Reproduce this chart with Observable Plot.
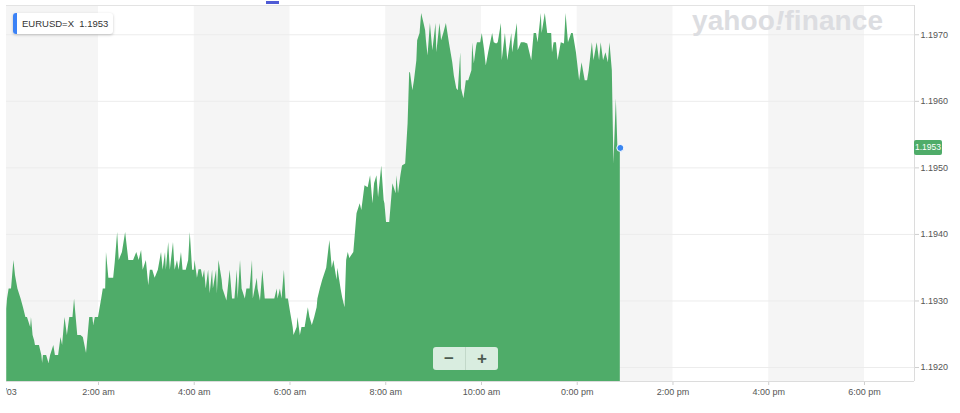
<!DOCTYPE html>
<html><head><meta charset="utf-8">
<script src="https://cdn.jsdelivr.net/npm/d3@7"></script>
<script src="https://cdn.jsdelivr.net/npm/@observablehq/plot@0.6"></script>
<style>
html,body{margin:0;padding:0;background:#fff;}
#wrap{position:relative;width:960px;height:413px;overflow:hidden;font-family:"Liberation Sans",Arial,sans-serif;}
#chart{position:absolute;left:6px;top:0;width:954px;height:413px;overflow:hidden;}
#chart svg{overflow:hidden;display:block;}
#chart svg [aria-label*="axis"] text{fill:#555;}
#tag{position:absolute;left:13px;top:13px;height:21px;padding:0 5px 0 9px;background:#fff;border-radius:3px;box-shadow:0 1px 3px rgba(0,0,0,0.22);font-size:9.5px;line-height:21px;color:#333;white-space:nowrap;}
#tag:before{content:"";position:absolute;left:0;top:0;width:4px;height:21px;background:#3b82f6;border-radius:3px 0 0 3px;}
#logo{position:absolute;left:692px;top:5px;font-size:28px;font-weight:bold;color:#dcdde1;letter-spacing:0.1px;font-family:"Liberation Sans",Arial,sans-serif;}
#logo i{font-style:italic;}
#zoom{position:absolute;left:433px;top:347px;width:65px;height:23px;background:#d9ede0;border-radius:3px;display:flex;font-weight:bold;color:#4c5b51;font-size:17px;line-height:23px;}
#zoom span{flex:1;text-align:center;}
#zoom span:first-child{border-right:1px solid #c2d8c9;}
#mark{position:absolute;left:266px;top:1px;width:13px;height:3px;background:#4f5bd5;}
</style></head>
<body>
<div id="wrap">
  <div id="chart"></div>
  <div id="mark"></div>
  <div id="tag">EURUSD=X&nbsp;&nbsp;1.1953</div>
  <div id="logo">yahoo<i>!</i>finance</div>
  <div id="zoom"><span>&minus;</span><span>+</span></div>
</div>
<script>
// minutes since midnight
const times = [
 5,6,8,11,14,16,19,23,26,29,
 31,35,36,38,40,41,44,46,49,50,
 51,55,58,60,64,66,70,73,75,78,
 81,84,88,90,94,98,101,105,109,113,
 114,116,120,124,126,129,130,133,135,139,
 141,144,146,150,154,158,161,164,168,171,
 174,176,180,183,185,188,191,195,199,201,
 204,205,208,210,214,216,219,221,224,226,
 230,233,235,238,240,241,244,246,249,251,
 253,255,258,260,263,264,268,269,271,275,
 276,281,285,288,291,294,295,298,300,304,
 306,310,313,314,319,320,323,326,329,333,
 338,341,344,345,348,350,353,355,358,360,
 364,365,369,370,373,375,379,383,385,388,
 391,394,395,398,401,406,410,413,415,419,
 420,424,426,429,431,433,435,440,444,448,
 450,454,458,461,464,466,469,471,475,478,
 479,481,485,489,493,494,496,499,501,505,
 508,510,511,514,516,519,520,523,525,528,
 530,531,533,536,539,543,544,548,550,553,
 556,560,564,566,569,571,574,575,578,581,
 584,588,589,591,594,595,599,601,604,606,
 609,614,616,619,621,625,626,630,633,638,
 639,641,645,646,650,654,658,663,666,669,
 671,675,676,680,683,688,689,691,694,696,
 700,704,706,709,713,715,719,723,726,730,
 733,735,739,741,745,748,750,753,756,759,
 761,764,766,769,771,774
];
const prices = [
 1.19288,1.19303,1.19318,1.19318,1.19361,1.19338,1.19318,1.19303,1.19290,1.19275,
 1.19275,1.19260,1.19275,1.19248,1.19240,1.19233,1.19233,1.19233,1.19218,1.19206,
 1.19218,1.19218,1.19206,1.19218,1.19233,1.19218,1.19218,1.19245,1.19233,1.19275,
 1.19248,1.19275,1.19275,1.19303,1.19248,1.19248,1.19245,1.19221,1.19275,1.19275,
 1.19263,1.19275,1.19275,1.19303,1.19318,1.19318,1.19373,1.19334,1.19334,1.19334,
 1.19358,1.19403,1.19361,1.19373,1.19403,1.19361,1.19361,1.19361,1.19373,1.19361,
 1.19376,1.19346,1.19361,1.19323,1.19346,1.19346,1.19334,1.19346,1.19373,1.19346,
 1.19373,1.19346,1.19388,1.19346,1.19388,1.19346,1.19361,1.19346,1.19373,1.19346,
 1.19346,1.19361,1.19403,1.19346,1.19346,1.19361,1.19334,1.19347,1.19347,1.19334,
 1.19346,1.19318,1.19346,1.19311,1.19346,1.19318,1.19346,1.19311,1.19361,1.19331,
 1.19318,1.19300,1.19346,1.19303,1.19303,1.19346,1.19303,1.19361,1.19318,1.19303,
 1.19318,1.19318,1.19361,1.19303,1.19334,1.19318,1.19300,1.19346,1.19303,1.19303,
 1.19303,1.19303,1.19318,1.19303,1.19318,1.19303,1.19346,1.19303,1.19303,1.19288,
 1.19260,1.19248,1.19260,1.19275,1.19248,1.19260,1.19260,1.19290,1.19275,1.19263,
 1.19275,1.19290,1.19303,1.19318,1.19331,1.19349,1.19391,1.19349,1.19361,1.19331,
 1.19349,1.19318,1.19305,1.19290,1.19361,1.19373,1.19364,1.19373,1.19431,1.19446,
 1.19436,1.19473,1.19470,1.19488,1.19446,1.19476,1.19488,1.19455,1.19503,1.19451,
 1.19446,1.19418,1.19418,1.19476,1.19461,1.19488,1.19461,1.19488,1.19503,1.19506,
 1.19566,1.19643,1.19643,1.19616,1.19631,1.19661,1.19691,1.19702,1.19732,1.19717,
 1.19706,1.19691,1.19668,1.19717,1.19676,1.19717,1.19673,1.19717,1.19691,1.19703,
 1.19717,1.19686,1.19658,1.19638,1.19619,1.19616,1.19673,1.19619,1.19604,1.19631,
 1.19631,1.19646,1.19688,1.19656,1.19683,1.19688,1.19688,1.19702,1.19676,1.19653,
 1.19673,1.19702,1.19688,1.19686,1.19688,1.19717,1.19661,1.19702,1.19661,1.19702,
 1.19673,1.19688,1.19717,1.19676,1.19688,1.19688,1.19686,1.19661,1.19702,1.19702,
 1.19688,1.19732,1.19702,1.19732,1.19702,1.19702,1.19673,1.19688,1.19688,1.19661,
 1.19688,1.19686,1.19732,1.19688,1.19702,1.19702,1.19673,1.19631,1.19658,1.19631,
 1.19631,1.19646,1.19688,1.19661,1.19688,1.19661,1.19688,1.19661,1.19673,1.19658,
 1.19688,1.19646,1.19506,1.19604,1.19530,1.19530
];
const lastPrice = 1.1953;
const xTickMinutes = [120,240,360,480,600,720,840,960,1080];
const xTickLabels = ["2:00 am","4:00 am","6:00 am","8:00 am","10:00 am","0:00 pm","2:00 pm","4:00 pm","6:00 pm"];
const dayLabel = "9/03";
const yTicks = [1.192,1.193,1.194,1.195,1.196,1.197];
const bandStarts = [0,240,480,720,960];
const bandEnds = [120,360,600,840,1080];
const xDomain = [4.7,1142.7];
const yDomain = [1.19179,1.19744];

const n = Math.min(times.length, prices.length);
const data = d3.range(n).map(i => ({t: times[i], v: prices[i]}));
const bands = bandStarts.map((s,i) => ({s, e: bandEnds[i]}));
const last = data[n-1];
const green = "#4fac69";

const chart = Plot.plot({
  width: 954, height: 413,
  marginLeft: 0, marginRight: 46, marginTop: 5, marginBottom: 32,
  style: {fontSize: "9px", fontFamily: "Liberation Sans, Arial, sans-serif", color: "#cfcfcf", background: "transparent", overflow: "hidden"},
  x: {domain: xDomain, ticks: xTickMinutes, tickFormat: d => xTickLabels[xTickMinutes.indexOf(d)], tickSize: 4, tickPadding: 3, label: null},
  y: {domain: yDomain, axis: "right", ticks: yTicks, tickFormat: d => d.toFixed(4), tickSize: 4, tickPadding: 2, label: null},
  marks: [
    Plot.rect(bands, {x1: "s", x2: "e", fill: "#f5f5f5"}),
    Plot.ruleY(yTicks, {stroke: "#ececec"}),
    Plot.areaY(data, {x: "t", y1: yDomain[0], y2: "v", fill: green}),
    Plot.ruleY([yDomain[1]], {stroke: "#e3e3e3"}),
    Plot.ruleY([yDomain[0]], {stroke: "#dcdcdc"}),
    Plot.ruleX([xDomain[1]], {stroke: "#dcdcdc"}),
    Plot.dot([last], {x: "t", y: "v", r: 3.5, fill: "#3a86f0", stroke: "#fff", strokeWidth: 1}),
    Plot.text([xDomain[0]], {x: d => d, frameAnchor: "bottom", lineAnchor: "top", dy: 7, dx: 1.5, text: () => dayLabel, fill: "#555"})
  ]
});
document.getElementById("chart").appendChild(chart);

// price tag at the last price, placed with the plot's own scales
const ys = chart.scale("y"), xs = chart.scale("x");
const svg = d3.select(chart);
const tagY = ys.apply(lastPrice);
const tagX = xs.apply(xDomain[1]);
const g = svg.append("g");
g.append("rect").attr("x", tagX).attr("y", tagY - 7.5).attr("width", 28).attr("height", 15).attr("rx", 2).attr("fill", green);
g.append("text").attr("x", tagX + 14).attr("y", tagY).attr("dy", "0.34em").attr("text-anchor", "middle")
  .attr("fill", "#fff").attr("font-size", 8.5).text(lastPrice.toFixed(4));
</script>
</body></html>
